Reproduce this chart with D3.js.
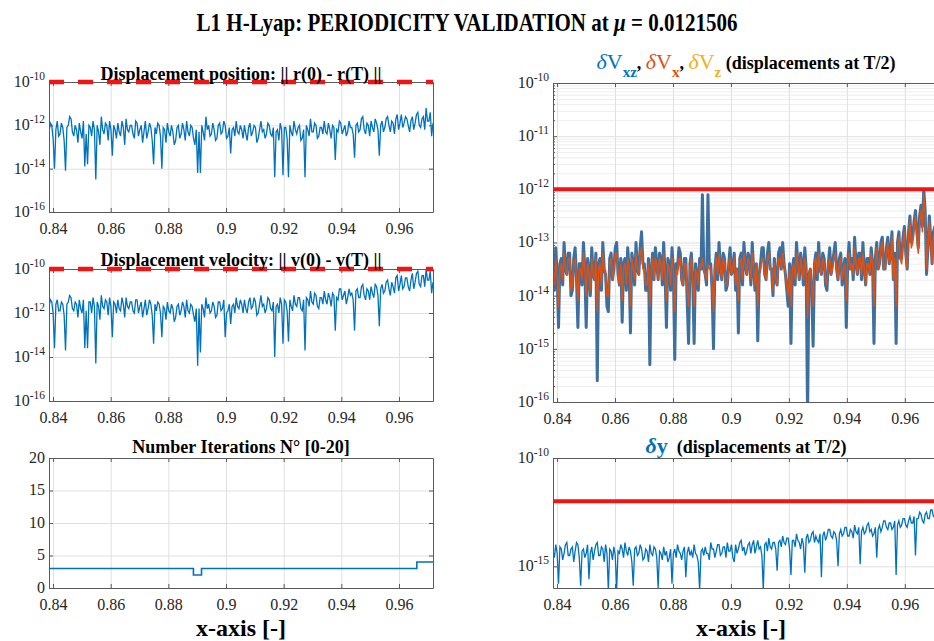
<!DOCTYPE html>
<html>
<head>
<meta charset="utf-8">
<script src="https://cdn.jsdelivr.net/npm/d3@7/dist/d3.min.js"></script>
<style>
body { margin: 0; background: #fff; overflow: hidden; }
svg { display: block; font-family: 'Liberation Serif', 'Times New Roman', serif; }
.grid line { stroke: #e0e0e0; stroke-width: 1; }
.grid.minor line { stroke: #eeeeee; }
.grid path { display: none; }
.ax path, .ax line { stroke: #5a5a5a; stroke-width: 1; }
.ttl { font-weight: bold; font-size: 18px; fill: #000; }
</style>
</head>
<body>
<div id="chart"></div>
<script>
const SERIF = "'Liberation Serif', 'Times New Roman', serif";

//Rango del parametro x y ticks
const X_START = 0.8386, X_END = 0.9718;
const xTicks = [0.84, 0.86, 0.88, 0.9, 0.92, 0.94, 0.96];

//Exponentes (log10)
const posErrExp = [
  -12.3,-11.9,-12.0,-12.6,-14.0,-12.2,-11.8,-12.5,-12.4,-11.9,-12.1,-12.7,-14.1,-12.1,-12.0,-11.6,-11.7,-12.3,-12.5,-12.0,
  -12.2,-12.8,-11.9,-12.3,-12.6,-11.8,-13.9,-12.4,-13.8,-12.0,-12.1,-12.5,-11.8,-12.2,-14.5,-12.0,-12.3,-12.9,-11.6,-12.2,
  -12.4,-11.9,-12.0,-12.7,-11.8,-12.2,-13.4,-12.0,-12.2,-12.6,-11.9,-12.3,-12.5,-11.8,-12.1,-12.9,-11.7,-12.2,-12.3,-12.0,
  -12.0,-12.4,-12.6,-11.8,-11.9,-12.5,-12.2,-12.0,-12.8,-12.3,-11.8,-12.6,-12.3,-11.9,-12.1,-12.7,-13.8,-12.1,-12.4,-11.9,
  -12.0,-12.5,-14.0,-12.1,-12.2,-12.8,-11.9,-12.3,-12.5,-12.0,-12.3,-12.9,-12.7,-12.1,-12.0,-12.6,-12.4,-11.9,-12.2,-12.7,
  -11.8,-12.3,-12.5,-12.0,-12.1,-12.6,-12.9,-12.2,-14.2,-12.3,-14.2,-12.0,-12.3,-12.7,-11.6,-12.2,-12.0,-12.5,-12.4,-11.9,
  -12.2,-12.7,-12.6,-12.0,-11.9,-12.4,-12.3,-11.8,-12.0,-12.6,-12.5,-12.1,-13.3,-12.2,-12.1,-12.5,-11.8,-12.3,-12.4,-12.0,
  -12.2,-12.6,-12.0,-12.4,-12.7,-12.1,-11.9,-12.5,-12.3,-12.0,-12.1,-12.8,-12.6,-12.2,-11.8,-12.3,-12.2,-12.6,-12.4,-11.9,
  -12.0,-12.4,-12.5,-12.1,-14.4,-12.3,-12.2,-12.7,-11.9,-12.2,-14.3,-12.1,-12.1,-12.6,-14.4,-12.0,-12.3,-12.5,-11.8,-12.2,
  -12.4,-12.1,-12.0,-12.7,-12.6,-12.2,-14.4,-12.0,-12.2,-12.5,-11.7,-12.3,-12.3,-11.9,-12.0,-12.6,-12.5,-12.1,-12.1,-12.4,
  -11.8,-12.3,-12.4,-11.9,-12.2,-12.6,-12.0,-12.1,-13.6,-12.2,-12.3,-11.8,-11.9,-12.4,-12.2,-12.0,-12.5,-12.3,-11.8,-12.1,
  -12.1,-12.4,-13.5,-12.0,-11.9,-12.3,-12.2,-11.7,-11.6,-12.2,-12.4,-11.9,-12.0,-12.5,-11.8,-12.1,-12.3,-11.7,-11.9,-12.2,
  -13.4,-12.0,-11.8,-12.3,-12.1,-11.7,-11.6,-12.0,-12.3,-11.8,-11.9,-12.4,-11.7,-11.5,-12.2,-11.9,-11.5,-12.1,-11.9,-11.6,
  -11.7,-12.0,-12.3,-11.8,-11.6,-12.2,-11.9,-11.5,-11.4,-12.0,-12.1,-11.7,-11.6,-12.2,-11.2,-11.8,-11.8,-11.4,-12.5,-11.9
];
const velErrExp = [
  -11.7,-11.4,-11.5,-12.0,-13.6,-11.6,-11.4,-11.9,-11.9,-11.5,-11.6,-12.1,-13.7,-11.6,-11.5,-11.2,-11.3,-11.8,-11.9,-11.5,
  -11.6,-12.2,-11.4,-11.8,-12.0,-11.4,-13.6,-11.9,-13.6,-11.5,-11.5,-12.0,-11.3,-11.7,-14.3,-11.5,-11.7,-12.3,-11.2,-11.7,
  -11.8,-11.4,-11.5,-12.1,-11.3,-11.7,-13.1,-11.5,-11.6,-12.0,-11.4,-11.8,-11.9,-11.3,-11.6,-12.2,-11.3,-11.7,-11.8,-11.5,
  -11.5,-11.9,-12.0,-11.4,-11.4,-12.0,-11.7,-11.5,-12.2,-11.8,-11.4,-12.1,-11.8,-11.4,-11.6,-12.1,-13.4,-11.6,-11.9,-11.5,
  -11.6,-12.0,-13.1,-11.7,-11.8,-12.3,-11.5,-11.9,-12.0,-11.6,-11.8,-12.4,-12.2,-11.7,-11.6,-12.1,-11.9,-11.5,-11.7,-12.2,
  -11.4,-11.9,-12.0,-11.6,-11.7,-12.1,-12.4,-11.8,-14.4,-11.8,-13.8,-11.6,-11.8,-12.2,-11.3,-11.8,-11.6,-12.0,-11.9,-11.5,
  -11.7,-12.2,-12.1,-11.5,-11.5,-11.9,-11.8,-11.4,-13.1,-12.0,-11.9,-11.6,-12.5,-11.7,-11.6,-12.0,-11.3,-11.7,-11.8,-11.4,
  -11.6,-12.0,-11.4,-11.8,-12.0,-11.5,-11.3,-11.8,-11.7,-11.3,-11.5,-12.1,-12.0,-11.6,-11.2,-11.7,-11.6,-12.0,-11.8,-11.3,
  -11.4,-11.8,-11.9,-11.5,-14.0,-11.7,-11.6,-12.0,-11.3,-11.6,-13.4,-11.4,-11.5,-11.9,-13.3,-11.4,-11.7,-11.9,-11.2,-11.6,
  -11.7,-11.3,-11.3,-11.8,-11.9,-11.4,-13.7,-11.3,-11.4,-11.7,-11.0,-11.5,-11.6,-11.1,-11.2,-11.7,-11.8,-11.3,-11.3,-11.6,
  -11.0,-11.4,-11.6,-11.1,-11.3,-11.7,-11.1,-11.2,-12.8,-11.3,-11.4,-10.9,-10.9,-11.4,-11.2,-11.0,-11.6,-11.3,-10.9,-11.2,
  -11.1,-11.4,-12.8,-11.0,-10.9,-11.3,-11.3,-10.8,-10.7,-11.2,-11.4,-10.9,-11.0,-11.4,-10.8,-11.1,-11.3,-10.7,-10.8,-11.2,
  -12.6,-10.9,-10.7,-11.1,-11.0,-10.6,-10.5,-10.9,-11.2,-10.6,-10.8,-11.1,-10.4,-10.3,-11.0,-10.7,-10.3,-10.9,-10.8,-10.4,
  -10.4,-10.8,-11.0,-10.5,-10.2,-10.9,-10.6,-10.2,-10.1,-10.7,-10.8,-10.3,-10.3,-10.8,-10.0,-10.5,-10.5,-10.1,-11.1,-10.6
];

//Iteraciones: tramos constantes
const iterBreaks = [0.8386, 0.8887, 0.8915, 0.9662, 0.9718];
const iterValues = [3, 2, 3, 4];

const dVxzExp = [
  -13.5,-13.9,-13.1,-13.6,-14.6,-13.4,-13.3,-13.8,-13.0,-13.5,-13.6,-13.2,-13.2,-14.0,-13.9,-13.3,-13.1,-13.7,-14.6,-13.4,
  -13.4,-13.8,-13.0,-13.5,-14.6,-13.3,-13.5,-14.0,-13.1,-13.6,-13.7,-13.2,-15.6,-13.4,-13.3,-13.9,-13.0,-13.5,-13.6,-14.2,
  -14.3,-13.3,-13.2,-13.7,-13.5,-13.1,-13.0,-13.6,-13.8,-13.3,-14.5,-13.4,-13.3,-13.9,-13.1,-13.5,-14.7,-13.2,-13.4,-13.8,
  -13.0,-13.5,-13.6,-13.1,-12.8,-13.4,-13.4,-13.9,-13.9,-13.3,-15.3,-13.5,-13.2,-13.7,-13.1,-13.4,-13.7,-13.2,-13.3,-13.8,
  -13.0,-13.6,-14.6,-13.3,-13.4,-13.9,-13.1,-13.5,-15.2,-13.4,-13.5,-13.1,-13.2,-13.7,-13.8,-13.3,-13.3,-14.1,-14.9,-13.4,
  -13.2,-13.7,-14.9,-13.4,-13.6,-13.9,-13.3,-13.5,-12.1,-13.5,-13.6,-13.8,-12.1,-13.4,-13.4,-13.9,-15.0,-13.5,-13.2,-13.7,
  -13.0,-13.5,-13.7,-13.2,-13.3,-13.9,-13.8,-13.4,-13.1,-13.6,-13.5,-13.2,-13.9,-13.5,-14.7,-13.3,-13.2,-13.8,-13.0,-13.4,
  -13.6,-13.2,-13.3,-13.8,-13.0,-13.5,-13.9,-13.4,-14.85,-13.6,-13.4,-13.1,-13.1,-13.6,-13.7,-13.2,-13.0,-13.5,-13.5,-14.0,
  -13.3,-13.7,-13.8,-13.2,-13.1,-13.5,-13.0,-13.4,-13.6,-13.9,-14.2,-13.4,-14.9,-13.5,-13.3,-13.8,-13.0,-13.4,-13.7,-13.2,
  -13.4,-13.8,-13.1,-13.5,-16.3,-13.6,-13.5,-13.9,-14.95,-13.4,-13.2,-13.7,-13.0,-13.5,-13.6,-13.2,-13.3,-13.8,-13.9,-13.4,
  -13.1,-13.6,-13.4,-13.2,-13.0,-13.5,-13.7,-13.3,-13.2,-13.8,-13.5,-13.3,-14.6,-13.4,-13.0,-13.5,-13.3,-13.7,-12.9,-13.4,
  -13.6,-13.2,-13.2,-13.7,-13.0,-13.5,-13.8,-13.3,-13.3,-13.6,-13.1,-13.4,-14.9,-13.3,-13.0,-13.5,-13.4,-13.0,-12.9,-13.5,
  -13.5,-13.1,-12.9,-13.4,-13.2,-12.8,-13.7,-13.2,-14.9,-13.0,-12.8,-13.3,-13.3,-12.9,-12.7,-13.2,-13.5,-12.8,-12.5,-13.0,
  -12.9,-12.6,-12.4,-12.8,-13.1,-12.5,-12.3,-12.7,-12.0,-12.4,-13.6,-13.1,-12.5,-12.9,-13.4,-12.8,-12.7,-13.1,-13.2,-12.9
];
const dVxExp = [
  -13.5,-13.8,-13.3,-13.6,-14.2,-13.5,-13.4,-13.7,-13.2,-13.5,-13.6,-13.3,-13.3,-13.9,-13.8,-13.4,-13.3,-13.7,-14.1,-13.5,
  -13.5,-13.7,-13.2,-13.5,-14.0,-13.4,-13.6,-13.9,-13.3,-13.6,-13.7,-13.3,-14.3,-13.5,-13.4,-13.8,-13.2,-13.5,-13.6,-14.0,
  -14.0,-13.4,-13.3,-13.7,-13.5,-13.2,-13.2,-13.6,-13.8,-13.4,-14.1,-13.5,-13.4,-13.8,-13.3,-13.5,-14.2,-13.3,-13.5,-13.7,
  -13.2,-13.5,-13.6,-13.2,-13.1,-13.5,-13.5,-13.8,-13.8,-13.4,-14.2,-13.5,-13.3,-13.7,-13.3,-13.4,-13.7,-13.3,-13.4,-13.7,
  -13.2,-13.6,-14.1,-13.4,-13.5,-13.8,-13.3,-13.5,-14.3,-13.5,-13.6,-13.3,-13.3,-13.7,-13.8,-13.4,-13.4,-13.9,-14.2,-13.5,
  -13.3,-13.7,-14.2,-13.5,-13.6,-13.8,-13.4,-13.5,-13.3,-13.5,-13.6,-13.7,-13.4,-13.5,-13.5,-13.8,-14.3,-13.5,-13.3,-13.6,
  -13.2,-13.5,-13.7,-13.3,-13.4,-13.8,-13.8,-13.4,-13.3,-13.6,-13.5,-13.3,-13.8,-13.5,-14.1,-13.4,-13.3,-13.7,-13.2,-13.4,
  -13.6,-13.3,-13.4,-13.7,-13.2,-13.5,-13.8,-13.4,-14.2,-13.6,-13.5,-13.3,-13.3,-13.6,-13.7,-13.3,-13.2,-13.5,-13.5,-13.9,
  -13.4,-13.7,-13.8,-13.3,-13.3,-13.5,-13.2,-13.4,-13.6,-13.8,-14.0,-13.5,-14.2,-13.5,-13.4,-13.7,-13.2,-13.4,-13.7,-13.3,
  -13.5,-13.7,-13.3,-13.5,-14.4,-13.6,-13.5,-13.8,-14.2,-13.4,-13.3,-13.6,-13.2,-13.5,-13.6,-13.3,-13.4,-13.7,-13.8,-13.4,
  -13.3,-13.6,-13.5,-13.3,-13.2,-13.5,-13.7,-13.4,-13.3,-13.7,-13.5,-13.4,-14.1,-13.4,-13.2,-13.5,-13.4,-13.6,-13.1,-13.4,
  -13.6,-13.3,-13.3,-13.6,-13.2,-13.5,-13.8,-13.4,-13.4,-13.6,-13.2,-13.4,-14.2,-13.4,-13.1,-13.5,-13.4,-13.1,-13.0,-13.5,
  -13.5,-13.2,-13.0,-13.4,-13.3,-12.9,-13.7,-13.3,-14.2,-13.1,-12.9,-13.3,-13.4,-13.0,-12.8,-13.3,-13.5,-12.9,-12.6,-13.1,
  -13.0,-12.7,-12.5,-12.9,-13.2,-12.6,-12.4,-12.8,-12.1,-12.5,-13.5,-13.1,-12.6,-13.0,-13.4,-12.9,-12.8,-13.1,-13.2,-13.0
];
const dyExp = [
  -14.3,-14.6,-14.0,-14.4,-15.8,-14.1,-14.2,-14.7,-14.4,-14.0,-13.9,-14.5,-14.5,-14.2,-14.1,-14.8,-14.3,-13.9,-14.0,-14.6,
  -15.9,-14.3,-14.2,-14.6,-14.4,-14.0,-15.6,-14.4,-14.1,-14.7,-14.3,-14.0,-13.9,-14.5,-14.5,-14.1,-14.2,-14.8,-14.0,-14.4,
  -16.1,-14.2,-14.3,-14.7,-14.1,-14.5,-16.1,-14.3,-14.4,-14.0,-14.2,-14.6,-13.9,-14.3,-14.5,-14.1,-14.3,-14.8,-15.9,-14.2,
  -14.1,-14.5,-14.4,-14.0,-14.2,-14.7,-14.6,-14.2,-14.3,-14.8,-14.0,-14.4,-14.5,-14.1,-14.2,-14.6,-16.0,-14.3,-14.4,-14.7,
  -14.1,-14.5,-14.3,-14.8,-14.6,-14.2,-15.8,-14.4,-14.2,-14.6,-14.0,-14.3,-14.4,-14.7,-14.3,-14.1,-15.5,-14.4,-14.1,-14.5,
  -14.3,-14.6,-14.0,-14.4,-14.5,-14.8,-16.1,-14.3,-14.2,-14.5,-14.1,-14.4,-14.4,-14.7,-13.9,-14.2,-14.2,-14.6,-14.3,-14.0,
  -14.0,-14.5,-14.4,-14.1,-14.1,-14.6,-13.9,-14.3,-14.3,-14.0,-14.6,-14.8,-14.0,-14.4,-14.2,-13.9,-13.8,-14.3,-14.1,-14.5,
  -14.3,-14.0,-13.9,-14.4,-14.0,-13.8,-14.4,-14.1,-13.8,-14.2,-14.1,-14.5,-16.1,-14.0,-13.9,-14.3,-13.7,-14.1,-14.2,-13.9,
  -13.9,-14.2,-15.2,-13.9,-13.8,-14.1,-13.6,-13.9,-14.0,-13.7,-13.7,-14.2,-15.4,-13.8,-13.8,-14.1,-13.5,-13.8,-13.9,-14.2,
  -13.7,-14.0,-15.3,-13.7,-13.5,-13.9,-13.8,-13.5,-13.4,-13.9,-13.6,-13.8,-13.9,-13.5,-15.5,-13.6,-13.4,-13.8,-13.6,-13.3,
  -13.3,-13.6,-13.7,-13.4,-13.5,-13.8,-15.0,-13.5,-13.3,-13.6,-13.5,-13.2,-13.2,-13.6,-13.6,-13.3,-13.4,-13.7,-13.1,-13.4,
  -13.5,-13.2,-14.9,-13.4,-13.2,-13.5,-13.4,-13.1,-13.0,-13.4,-13.3,-13.6,-13.5,-13.2,-14.6,-13.3,-13.1,-13.4,-13.2,-12.9,
  -12.9,-13.2,-13.3,-13.0,-13.0,-13.3,-13.2,-12.9,-15.4,-13.1,-12.9,-13.2,-13.1,-12.8,-12.8,-13.1,-13.2,-12.9,-12.7,-13.0,
  -13.0,-12.7,-14.5,-12.8,-12.8,-12.5,-12.6,-12.9,-13.0,-12.6,-12.5,-12.8,-12.8,-12.4,-12.4,-12.7,-12.7,-12.3,-12.6,-12.5
];

//Tolerancias (lineas rojas)
const posTol = 1e-10, velTol = 1e-10, dVTol = 1e-12, dyTol = 1e-12;

//Colores
const COLOR_BLUE = '#0072BD', COLOR_ORANGE = '#D95319', COLOR_YELLOW = '#EDB120',
      COLOR_RED = '#f01414', COLOR_DVBLUE = '#3d6f9f';

const N = posErrExp.length;
const xGrid = d3.range(N).map(i => X_START + i * (X_END - X_START) / (N - 1));

const svg = d3.select('#chart').append('svg')
    .attr('width', 934).attr('height', 641);

let clipId = 0;

function panel(o) {
    let w = o.x1 - o.x0, h = o.bottom - o.top;
    let g = svg.append('g').attr('transform', 'translate(' + o.x0 + ',' + o.top + ')');
    let x = d3.scaleLinear().domain([X_START, X_END]).range([0, w]);
    let y = (o.log ? d3.scaleLog() : d3.scaleLinear()).domain(o.yDomain).range([h, 0]);

    //grid
    if (o.minor) {
        g.append('g').attr('class', 'grid minor')
            .call(d3.axisLeft(y).tickValues(o.minor).tickSize(-w).tickFormat(''));
    }
    g.append('g').attr('class', 'grid')
        .call(d3.axisLeft(y).tickValues(o.yTicks).tickSize(-w).tickFormat(''));
    g.append('g').attr('class', 'grid').attr('transform', 'translate(0,' + h + ')')
        .call(d3.axisBottom(x).tickValues(xTicks).tickSize(-h).tickFormat(''));

    let id = 'clip' + (clipId++);
    g.append('clipPath').attr('id', id).append('rect').attr('width', w).attr('height', h);
    let plot = g.append('g').attr('clip-path', 'url(#' + id + ')');

    return { g, plot, x, y, w, h, o };
}

function axes(p) {
    let { g, x, y, w, h, o } = p;
    let gx = g.append('g').attr('class', 'ax').attr('transform', 'translate(0,' + h + ')')
        .call(d3.axisBottom(x).tickValues(xTicks).tickSizeInner(-4).tickSizeOuter(0).tickPadding(11)
            .tickFormat(d3.format('')));
    g.append('g').attr('class', 'ax')
        .call(d3.axisTop(x).tickValues(xTicks).tickSizeInner(-4).tickSizeOuter(0).tickFormat(''));
    g.append('g').attr('class', 'ax').attr('transform', 'translate(' + w + ',0)')
        .call(d3.axisRight(y).tickValues(o.yTicks).tickSizeInner(-4).tickSizeOuter(0).tickFormat(''));
    if (o.minor) {
        g.append('g').attr('class', 'ax')
            .call(d3.axisLeft(y).tickValues(o.minor).tickSizeInner(-2).tickSizeOuter(0).tickFormat(''));
    }
    let gy = g.append('g').attr('class', 'ax')
        .call(d3.axisLeft(y).tickValues(o.yTicks).tickSizeInner(-4).tickSizeOuter(0).tickPadding(4)
            .tickFormat(o.log ? () => '10' : d3.format('')));
    gy.selectAll('.tick > text').attr('dy', '0.28em');
    if (o.log) {
        gy.selectAll('.tick text').each(function(d) {
            d3.select(this).append('tspan')
                .attr('dy', '-0.6em')
                .style('font-size', '11.5px')
                .text(Math.round(Math.log10(d)));
        });
    }
    [gx, gy].forEach(a => {
        a.attr('font-family', null).attr('font-size', null);
        a.selectAll('.tick > text')
            .style('font-family', SERIF).style('font-size', '16px').attr('fill', '#262626');
    });
}

function expLine(p) {
    return d3.line().x((d, i) => p.x(xGrid[i])).y(d => p.y(Math.pow(10, d)));
}

function tolLine(p, val, dashed, width) {
    p.g.append('line')
        .attr('x1', p.x(X_START)).attr('x2', p.x(X_END))
        .attr('y1', p.y(val)).attr('y2', p.y(val))
        .attr('stroke', COLOR_RED).attr('stroke-width', width)
        .attr('stroke-dasharray', dashed ? '15,14' : null);
}

function title(p, dy) {
    return svg.append('text').attr('class', 'ttl')
        .attr('x', (p.o.x0 + p.o.x1) / 2).attr('y', p.o.top - dy)
        .attr('text-anchor', 'middle');
}

const L0 = 49, L1 = 433, R0 = 553, R1 = 939;

//Panel 1: posicion
let p1 = panel({ x0: L0, x1: L1, top: 82, bottom: 212, log: true, yDomain: [1e-16, 1e-10],
                 yTicks: [1e-16, 1e-14, 1e-12, 1e-10] });
p1.plot.append('path').datum(posErrExp).attr('d', expLine(p1))
    .attr('fill', 'none').attr('stroke', COLOR_BLUE).attr('stroke-width', 1.3);
axes(p1);
tolLine(p1, posTol, true, 4.5);
title(p1, 2).text('Displacement position: || r(0) - r(T) ||');

//Panel 2: velocidad
let p2 = panel({ x0: L0, x1: L1, top: 269, bottom: 401, log: true, yDomain: [1e-16, 1e-10],
                 yTicks: [1e-16, 1e-14, 1e-12, 1e-10] });
p2.plot.append('path').datum(velErrExp).attr('d', expLine(p2))
    .attr('fill', 'none').attr('stroke', COLOR_BLUE).attr('stroke-width', 1.3);
axes(p2);
tolLine(p2, velTol, true, 4.5);
title(p2, 3).text('Displacement velocity: || v(0) - v(T) ||');

//Panel 3: iteraciones
let p3 = panel({ x0: L0, x1: L1, top: 458, bottom: 588, log: false, yDomain: [0, 20],
                 yTicks: [0, 5, 10, 15, 20] });
let iterPts = iterValues.map((v, i) => [iterBreaks[i], v]);
iterPts.push([iterBreaks[iterBreaks.length - 1], iterValues[iterValues.length - 1]]);
p3.plot.append('path').datum(iterPts)
    .attr('d', d3.line().x(d => p3.x(d[0])).y(d => p3.y(d[1])).curve(d3.curveStepAfter))
    .attr('fill', 'none').attr('stroke', COLOR_BLUE).attr('stroke-width', 1.6);
axes(p3);
title(p3, 5).text('Number Iterations N\u00B0 [0-20]');

//Panel 4: dV
let minor4 = [];
for (let e = -16; e < -10; e++) for (let k = 2; k <= 9; k++) minor4.push(k * Math.pow(10, e));
let p4 = panel({ x0: R0, x1: R1, top: 83, bottom: 402, log: true, yDomain: [1e-16, 1e-10],
                 yTicks: [1e-16, 1e-15, 1e-14, 1e-13, 1e-12, 1e-11, 1e-10], minor: minor4 });
p4.plot.append('path').datum(dVxzExp).attr('d', expLine(p4))
    .attr('fill', 'none').attr('stroke', COLOR_DVBLUE).attr('stroke-width', 3).attr('stroke-linejoin', 'round');
p4.plot.append('path').datum(dVxExp).attr('d', expLine(p4))
    .attr('fill', 'none').attr('stroke', COLOR_ORANGE).attr('stroke-width', 1.5).attr('stroke-linejoin', 'round');
axes(p4);
tolLine(p4, dVTol, false, 4);
let t4 = title(p4, 14);
[['xz', COLOR_BLUE], ['x', COLOR_ORANGE], ['z', COLOR_YELLOW]].forEach((s, i) => {
    t4.append('tspan').attr('fill', s[1]).attr('font-size', '22px').attr('font-weight', 'normal')
        .attr('font-style', 'italic').text('\u03B4');
    t4.append('tspan').attr('fill', s[1]).attr('font-size', '22px').attr('font-weight', 'normal').text('V');
    t4.append('tspan').attr('fill', s[1]).attr('font-size', '15px').attr('dy', 8).text(s[0]);
    t4.append('tspan').attr('dy', -8).text(i < 2 ? ', ' : ' ');
});
t4.append('tspan').text('(displacements at T/2)');

//Panel 5: dy
let p5 = panel({ x0: R0, x1: R1, top: 458, bottom: 588, log: true, yDomain: [1e-16, 1e-10],
                 yTicks: [1e-15, 1e-10] });
p5.plot.append('path').datum(dyExp).attr('d', expLine(p5))
    .attr('fill', 'none').attr('stroke', COLOR_BLUE).attr('stroke-width', 1.3);
axes(p5);
tolLine(p5, dyTol, false, 4);
let t5 = title(p5, 5);
t5.append('tspan').attr('fill', COLOR_BLUE).attr('font-size', '22px').attr('font-style', 'italic').text('\u03B4');
t5.append('tspan').attr('fill', COLOR_BLUE).attr('font-size', '22px').text('y');
t5.append('tspan').text('\u00A0 (displacements at T/2)');

//Etiquetas eje x
[[L0, L1], [R0, R1 - 10]].forEach(c => {
    svg.append('text').attr('x', (c[0] + c[1]) / 2).attr('y', 636)
        .attr('text-anchor', 'middle').attr('font-weight', 'bold').attr('font-size', '24px')
        .text('x-axis [-]');
});

//Titulo general
let mt = svg.append('text').attr('transform', 'translate(467,31) scale(1,1.2)').attr('text-anchor', 'middle')
    .attr('font-weight', 'bold').attr('font-size', '21px');
mt.append('tspan').text('L1 H-Lyap: PERIODICITY VALIDATION at ');
mt.append('tspan').attr('font-style', 'italic').text('\u03BC');
mt.append('tspan').text(' = 0.0121506');
</script>
</body>
</html>
